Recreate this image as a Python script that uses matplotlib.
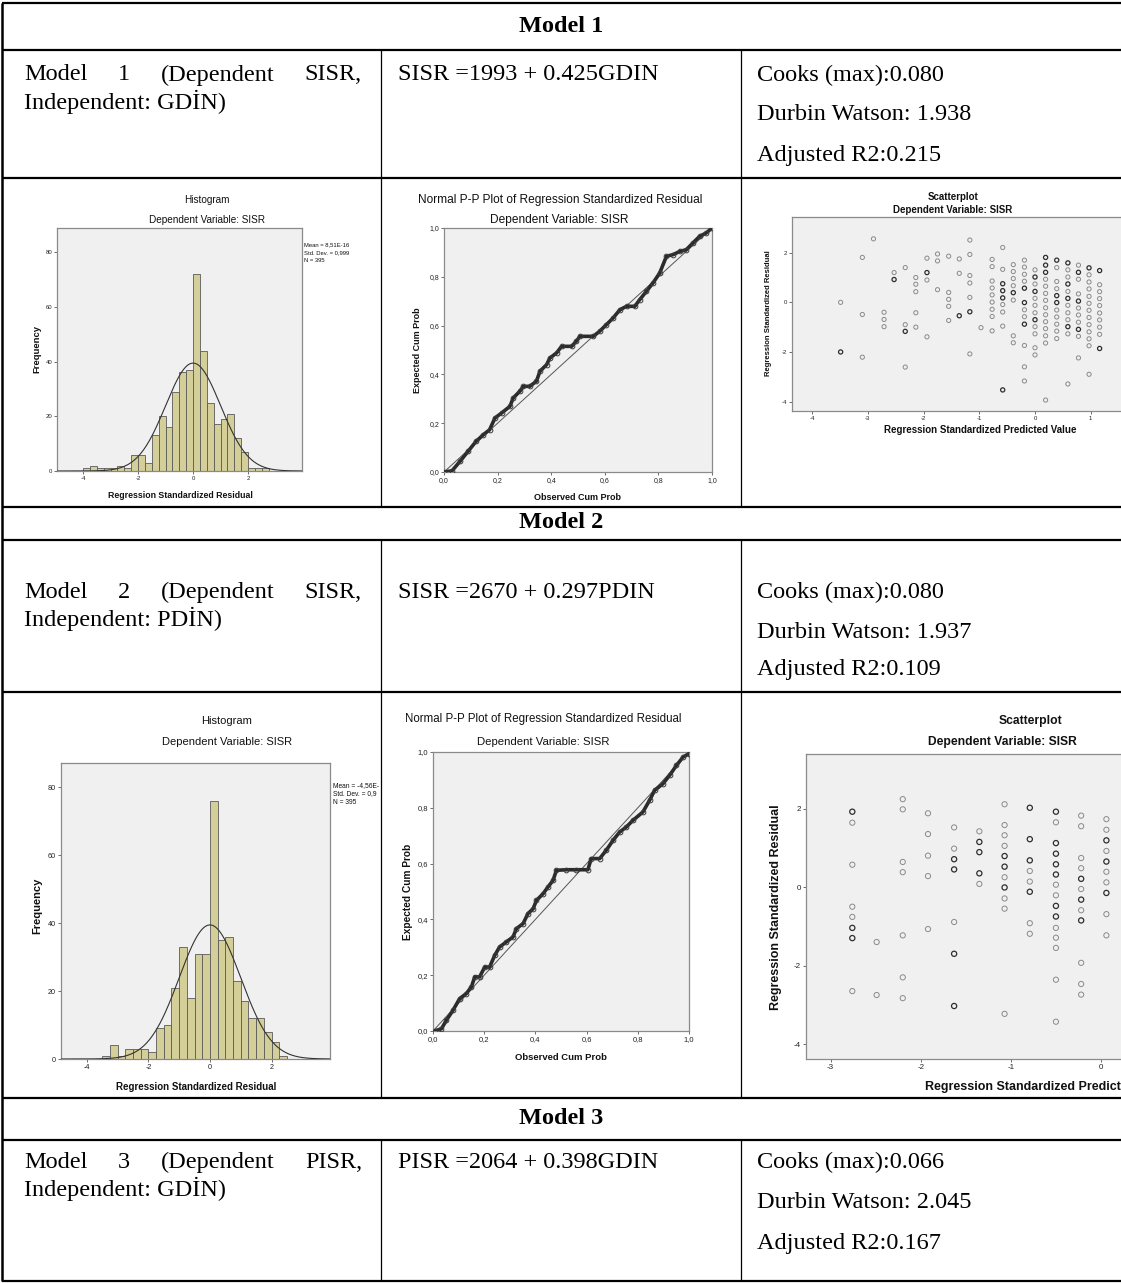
import numpy as np
import matplotlib
matplotlib.use("Agg")
import matplotlib.pyplot as plt
from matplotlib.ticker import FixedLocator, FuncFormatter

# ------------------------------------------------------------------ data
headers = ["Model 1", "Model 2", "Model 3"]
desc_line1 = [["Model", "1", "(Dependent", "SISR,"],
              ["Model", "2", "(Dependent", "SISR,"],
              ["Model", "3", "(Dependent", "PISR,"]]
desc_line2 = ["Independent: GDİN)", "Independent: PDİN)", "Independent: GDİN)"]
equations = ["SISR =1993 + 0.425GDIN", "SISR =2670 + 0.297PDIN", "PISR =2064 + 0.398GDIN"]
cooks_max = ["0.080", "0.080", "0.066"]
durbin_watson = ["1.938", "1.937", "2.045"]
adjusted_r2 = ["0.215", "0.109", "0.167"]

bin_width = 0.25
hist_n = 395
hist1_start = -4.0
hist1_counts = [1, 2, 1, 1, 1, 2, 1, 6, 6, 3, 13, 20, 16, 29, 36, 37,
                72, 44, 25, 17, 19, 21, 12, 7, 1, 1, 1]
hist1_sd = 0.999
hist1_stats = ["Mean = 8,51E-16", "Std. Dev. = 0,999", "N = 395"]
hist2_start = -3.5
hist2_counts = [1, 4, 1, 3, 3, 3, 2, 9, 10, 21, 33, 18, 31, 31,
                76, 35, 36, 23, 17, 12, 12, 8, 5, 1]
hist2_sd = 0.999
hist2_stats = ["Mean = -4,56E-", "Std. Dev. = 0,9", "N = 395"]

pp1_obs = [0.0, 0.03, 0.06, 0.09, 0.12, 0.147, 0.17, 0.19, 0.215, 0.246, 0.258,
           0.283, 0.296, 0.32, 0.345, 0.358, 0.383, 0.395, 0.42, 0.439, 0.476,
           0.494, 0.507, 0.557, 0.581, 0.606, 0.631, 0.656, 0.681, 0.712, 0.73,
           0.755, 0.78, 0.805, 0.83, 0.855, 0.88, 0.904, 0.929, 0.954, 0.979, 1.0]
pp1_exp = [0.0, 0.005, 0.044, 0.085, 0.126, 0.153, 0.173, 0.221, 0.242, 0.269, 0.303,
           0.331, 0.351, 0.351, 0.372, 0.413, 0.44, 0.467, 0.488, 0.515, 0.515,
           0.536, 0.556, 0.556, 0.577, 0.604, 0.631, 0.665, 0.679, 0.679, 0.706,
           0.74, 0.775, 0.816, 0.884, 0.891, 0.904, 0.911, 0.939, 0.966, 0.98, 1.0]
pp2_obs = [0.007, 0.033, 0.052, 0.078, 0.104, 0.13, 0.15, 0.163, 0.182, 0.202, 0.221,
           0.241, 0.26, 0.286, 0.3125, 0.326, 0.352, 0.371, 0.391, 0.404, 0.43,
           0.449, 0.469, 0.482, 0.521, 0.56, 0.605, 0.618, 0.651, 0.677, 0.703,
           0.729, 0.755, 0.781, 0.82, 0.846, 0.866, 0.898, 0.924, 0.951, 0.977, 1.0]
pp2_exp = [0.0, 0.008, 0.038, 0.074, 0.116, 0.134, 0.158, 0.194, 0.194, 0.229, 0.229,
           0.271, 0.301, 0.319, 0.337, 0.367, 0.385, 0.421, 0.438, 0.468, 0.492,
           0.516, 0.54, 0.576, 0.578, 0.578, 0.578, 0.618, 0.618, 0.648, 0.683,
           0.713, 0.731, 0.755, 0.785, 0.827, 0.863, 0.886, 0.916, 0.952, 0.982, 0.994]

sc1_cols = [-3.49, -3.10, -2.90, -2.71, -2.53, -2.33, -2.14, -1.94, -1.75, -1.55,
            -1.36, -1.17, -0.97, -0.77, -0.58, -0.39, -0.19, 0.00, 0.19, 0.39,
            0.59, 0.78, 0.97, 1.16]
sc1_light = [[0.00], [1.81, -0.49, -2.21], [2.56], [-0.40, -0.69, -0.98], [1.20],
             [1.40, -0.90, -2.61], [1.00, 0.73, 0.43, -0.42, -1.00], [1.78, 0.90, -1.39],
             [1.95, 1.67, 0.51], [1.86, 0.40, 0.12, -0.16, -0.73], [1.75, 1.17],
             [2.51, 1.93, 1.08, 0.78, 0.20, -2.08], [-1.02],
             [1.73, 1.44, 0.86, 0.58, 0.30, 0.01, -0.28, -0.57, -1.15],
             [2.21, 1.33, -0.09, -0.39, -0.96],
             [1.52, 1.24, 0.96, 0.67, 0.09, -1.35, -1.63],
             [1.70, 1.42, 1.13, 0.85, -0.30, -0.58, -1.74, -2.60, -3.17],
             [1.31, 0.74, 0.16, -0.12, -0.42, -0.98, -1.27, -1.83, -2.12],
             [0.93, 0.65, 0.36, 0.08, -0.22, -0.50, -0.78, -1.06, -1.35, -1.64, -3.94],
             [1.40, 0.84, 0.55, -0.31, -0.59, -0.88, -1.16, -1.46],
             [1.31, 1.02, 0.44, -0.12, -0.42, -0.70, -1.27, -3.29],
             [1.50, 0.93, 0.34, -0.23, -0.51, -0.80, -1.37, -2.24],
             [1.11, 0.82, 0.54, 0.24, -0.04, -0.32, -0.61, -0.90, -1.19, -1.47, -1.75, -2.90],
             [0.71, 0.43, 0.15, -0.13, -0.43, -0.71, -1.00, -1.29]]
sc1_dark = [[-2.00], [], [], [], [0.92], [-1.17], [], [1.20], [], [], [-0.54], [-0.38],
            [], [], [0.75, 0.47, 0.18, -3.53], [0.39], [0.57, -0.01, -0.88],
            [1.02, 0.44, -0.70], [1.81, 1.50, 1.21], [1.70, 0.27, -0.01],
            [1.59, 0.74, 0.16, -0.98], [1.21, 0.05, -1.09], [1.39], [1.28, -1.86]]

sc2_cols = [-2.76, -2.49, -2.20, -1.92, -1.63, -1.35, -1.07, -0.79, -0.50, -0.22, 0.06]
sc2_light = [[1.65, 0.58, -0.49, -0.75, -2.64], [-1.39, -2.74],
             [2.25, 1.99, 0.65, 0.39, -1.22, -2.29, -2.82], [1.89, 1.36, 0.81, 0.29, -1.06],
             [1.53, 0.99, -0.88], [1.43, 0.09],
             [2.12, 1.59, 1.33, 1.06, 0.26, -0.28, -0.54, -3.22],
             [0.42, 0.15, -0.91, -1.18],
             [1.66, 0.07, -0.20, -1.03, -1.28, -1.54, -2.35, -3.42],
             [1.83, 1.56, 0.75, 0.49, -0.04, -0.58, -1.92, -2.46, -2.73],
             [1.74, 1.47, 0.93, 0.40, 0.13, -0.68, -1.22]]
sc2_dark = [[1.93, -1.03, -1.29], [], [], [], [0.72, 0.46, -1.69, -3.02],
            [1.16, 0.90, 0.36], [0.80, 0.53, 0.00], [2.03, 1.23, 0.69, -0.11],
            [1.93, 1.13, 0.86, 0.59, 0.33, -0.47, -0.74], [0.22, -0.31, -0.84],
            [1.20, 0.66, -0.14]]

hist_ticks_x = [-4, -2, 0, 2]
hist_ticks_y = [0, 20, 40, 60, 80]
pp_ticks = [0.0, 0.2, 0.4, 0.6, 0.8, 1.0]
sc1_ticks_x = [-4, -3, -2, -1, 0, 1]
sc2_ticks_x = [-3, -2, -1, 0, 1]
sc_ticks_y = [-4, -2, 0, 2]

# ------------------------------------------------------------------ figure
W, H = 1121, 1283
SERIF = ["Liberation Serif", "DejaVu Serif"]
SANS = ["Liberation Sans", "DejaVu Sans"]
plt.rcParams["font.family"] = SANS

fig = plt.figure(figsize=(W / 100, H / 100), dpi=100)
bg = fig.add_axes([0, 0, 1, 1])
bg.set_xlim(0, W)
bg.set_ylim(H, 0)
bg.axis("off")

TFS = 17.5


def hline(y, x0=2, x1=W, lw=1.6):
    bg.plot([x0, x1], [y, y], color="black", lw=lw, solid_capstyle="butt")


def vline(x, y0, y1, lw=0.9):
    bg.plot([x, x], [y0, y1], color="black", lw=lw, solid_capstyle="butt")


# table grid
row_lines = [3, 50, 178, 507, 540, 692, 1098, 1140, 1281]
for y in row_lines:
    hline(y)
vline(2, 3, 1281, lw=1.8)
for (y0, y1) in [(50, 178), (178, 507), (540, 692), (692, 1098), (1140, 1281)]:
    vline(381, y0, y1)
    vline(741, y0, y1)

header_y = [27, 523, 1119]
text_y = [(75, 102, 75, 115, 155), (592, 619, 592, 632, 670), (1162, 1189, 1162, 1203, 1243)]

renderer = fig.canvas.get_renderer()


def justified(words, xl, xr, y):
    ts = [bg.text(0, y, w, fontsize=TFS, family=SERIF, ha="left", va="center") for w in words]
    widths = [t.get_window_extent(renderer).width for t in ts]
    gap = (xr - xl - sum(widths)) / (len(words) - 1)
    x = xl
    for t, w in zip(ts, widths):
        t.set_x(x)
        x += w + gap


for i in range(3):
    bg.text(561, header_y[i], headers[i], fontsize=TFS, family=SERIF, weight="bold",
            ha="center", va="center")
    l1, l2, s1, s2, s3 = text_y[i]
    justified(desc_line1[i], 24, 362, l1)
    bg.text(24, l2, desc_line2[i], fontsize=TFS, family=SERIF, ha="left", va="center")
    bg.text(398, l1, equations[i], fontsize=TFS, family=SERIF, ha="left", va="center")
    bg.text(757, s1, "Cooks (max):" + cooks_max[i], fontsize=TFS, family=SERIF, ha="left", va="center")
    bg.text(757, s2, "Durbin Watson: " + durbin_watson[i], fontsize=TFS, family=SERIF, ha="left", va="center")
    bg.text(757, s3, "Adjusted R2:" + adjusted_r2[i], fontsize=TFS, family=SERIF, ha="left", va="center")


# ------------------------------------------------------------------ chart helpers
def px_axes(x0, y0, x1, y1):
    return fig.add_axes([x0 / W, 1 - y1 / H, (x1 - x0) / W, (y1 - y0) / H])


def style(ax, fs):
    ax.set_facecolor("#F0F0F0")
    for s in ax.spines.values():
        s.set_color("#8a8a8a")
        s.set_linewidth(0.9)
    ax.tick_params(direction="out", length=2.5, width=0.6, color="#555555",
                   labelsize=fs, labelcolor="#222222", pad=1)
    ax.tick_params(top=False, right=False)


def label(x, y, s, fs, weight="normal", rot=0, ha="center"):
    bg.text(x, y, s, fontsize=fs, weight=weight, rotation=rot, ha=ha, va="center",
            family=SANS, color="#111111")


comma = FuncFormatter(lambda v, p: f"{v:.1f}".replace(".", ","))
intfmt = FuncFormatter(lambda v, p: f"{v:.0f}")


def histogram(box, xlim, ylim, start, counts, sd, fs):
    ax = px_axes(*box)
    style(ax, fs)
    lefts = start + bin_width * np.arange(len(counts))
    ax.bar(lefts, counts, width=bin_width, align="edge", color="#D4CF98",
           edgecolor="#5a5a5a", linewidth=0.6, zorder=2)
    xs = np.linspace(xlim[0], xlim[1], 400)
    ys = hist_n * bin_width * np.exp(-0.5 * (xs / sd) ** 2) / (sd * np.sqrt(2 * np.pi))
    ax.plot(xs, ys, color="#333333", lw=0.8, zorder=3)
    ax.set_xlim(*xlim)
    ax.set_ylim(*ylim)
    ax.xaxis.set_major_locator(FixedLocator(hist_ticks_x))
    ax.yaxis.set_major_locator(FixedLocator(hist_ticks_y))
    ax.xaxis.set_major_formatter(intfmt)
    ax.yaxis.set_major_formatter(intfmt)
    return ax


def ppplot(box, obs, exp, fs):
    ax = px_axes(*box)
    style(ax, fs)
    ax.plot([0, 1], [0, 1], color="#555555", lw=0.7, zorder=2)
    ax.plot(obs, exp, color="#2b2b2b", lw=2.6, zorder=3, solid_joinstyle="round",
            solid_capstyle="round")
    ax.plot(obs, exp, ls="none", marker="o", ms=3.4, mfc="none", mec="#3a3a3a", mew=0.7, zorder=4)
    ax.set_xlim(0, 1)
    ax.set_ylim(0, 1)
    ax.xaxis.set_major_locator(FixedLocator(pp_ticks))
    ax.yaxis.set_major_locator(FixedLocator(pp_ticks))
    ax.xaxis.set_major_formatter(comma)
    ax.yaxis.set_major_formatter(comma)
    return ax


def scatter(box, xlim, ylim, cols, light, dark, xticks, fs, size):
    ax = px_axes(*box)
    style(ax, fs)
    ax.spines["right"].set_visible(False)
    for x, ys in zip(cols, light):
        ax.scatter([x] * len(ys), ys, s=size, facecolors="none", edgecolors="#8a8a8a",
                   linewidths=0.7, zorder=3)
    for x, ys in zip(cols, dark):
        if ys:
            ax.scatter([x] * len(ys), ys, s=size, facecolors="none", edgecolors="#2e2e2e",
                       linewidths=0.9, zorder=4)
    ax.set_xlim(*xlim)
    ax.set_ylim(*ylim)
    ax.xaxis.set_major_locator(FixedLocator(xticks))
    ax.yaxis.set_major_locator(FixedLocator(sc_ticks_y))
    ax.xaxis.set_major_formatter(intfmt)
    ax.yaxis.set_major_formatter(intfmt)
    return ax


# ------------------------------------------------------------------ row 1 charts
histogram((57, 228, 302, 471), (-4.95, 3.96), (0, 88.8), hist1_start, hist1_counts, hist1_sd, 4.3)
label(207, 200, "Histogram", 7.2)
label(207, 220, "Dependent Variable: SISR", 7.2)
label(37, 349, "Frequency", 6.8, "bold", 90)
label(180, 496, "Regression Standardized Residual", 6.3, "bold")
for k, s in enumerate(hist1_stats):
    label(304, 245 + 7.5 * k, s, 4.2, ha="left")

ppplot((444, 228, 712, 472), pp1_obs, pp1_exp, 5.0)
label(560, 200, "Normal P-P Plot of Regression Standardized Residual", 8.6)
label(559, 220, "Dependent Variable: SISR", 8.6)
label(417, 350, "Expected Cum Prob", 6.5, "bold", 90)
label(578, 497, "Observed Cum Prob", 6.5, "bold")

scatter((792, 217, 1140, 411), (-4.363, 1.885), (-4.38, 3.44), sc1_cols, sc1_light, sc1_dark,
        sc1_ticks_x, 4.3, 9)
label(953, 197, "Scatterplot", 7.0, "bold")
label(953, 210, "Dependent Variable: SISR", 7.0, "bold")
label(768, 313, "Regression Standardized Residual", 5.5, "bold", 90)
label(980, 430, "Regression Standardized Predicted Value", 7.0, "bold")

# ------------------------------------------------------------------ row 2 charts
histogram((61, 763, 330, 1059), (-4.84, 3.90), (0, 87.06), hist2_start, hist2_counts, hist2_sd, 5.2)
label(227, 721, "Histogram", 8.0)
label(227, 742, "Dependent Variable: SISR", 8.0)
label(37, 906, "Frequency", 8.0, "bold", 90)
label(196, 1087, "Regression Standardized Residual", 7.0, "bold")
for k, s in enumerate(hist2_stats):
    label(333, 786 + 8 * k, s, 4.8, ha="left")

ppplot((433, 752, 689, 1031), pp2_obs, pp2_exp, 5.5)
label(543, 719, "Normal P-P Plot of Regression Standardized Residual", 8.3)
label(543, 742, "Dependent Variable: SISR", 8.2)
label(408, 892, "Expected Cum Prob", 7.3, "bold", 90)
label(561, 1058, "Observed Cum Prob", 6.8, "bold")

scatter((806, 754, 1200, 1059), (-3.274, 1.099), (-4.37, 3.40), sc2_cols, sc2_light, sc2_dark,
        sc2_ticks_x, 5.8, 14)
label(1030, 721, "Scatterplot", 8.7, "bold")
label(928, 742, "Dependent Variable: SISR", 8.7, "bold", ha="left")
label(776, 907, "Regression Standardized Residual", 9.0, "bold", 90)
label(925, 1087, "Regression Standardized Predicted Value", 9.0, "bold", ha="left")

fig.savefig("out.png", dpi=100)
